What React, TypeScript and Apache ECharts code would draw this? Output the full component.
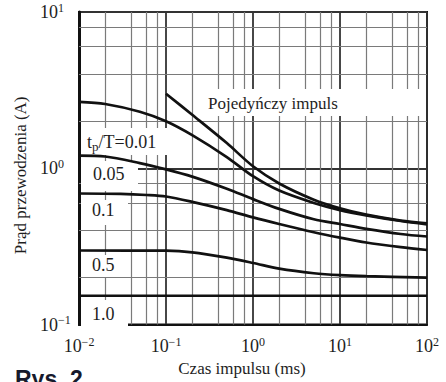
import React, { useEffect, useRef } from 'react';
import * as echarts from 'echarts';

// Axis extents (log scales)
const xRange = [0.01, 100];
const yRange = [0.1, 10];
const minorMultipliers = [2, 4, 6, 8];
const xDecades = [0.01, 0.1, 1, 10];
const yDecades = [0.1, 1];

// Curves: [pulse time (ms), conduction current (A)]
const singlePulse = [
  [0.1, 3.0], [0.2, 2.2], [0.5, 1.45], [1, 1.03], [2, 0.8],
  [5, 0.63], [10, 0.555], [20, 0.505], [50, 0.463], [100, 0.444],
];
const duty001 = [
  [0.01, 2.66], [0.02, 2.58], [0.05, 2.3], [0.1, 2.0], [0.2, 1.63],
  [0.5, 1.18], [1, 0.89], [2, 0.72], [5, 0.6], [10, 0.54],
  [20, 0.5], [50, 0.46], [100, 0.438],
];
const duty005 = [
  [0.01, 1.205], [0.02, 1.19], [0.05, 1.08], [0.1, 0.985], [0.2, 0.885],
  [0.5, 0.74], [1, 0.635], [2, 0.55], [5, 0.472], [10, 0.44],
  [20, 0.41], [50, 0.38], [100, 0.366],
];
const duty01 = [
  [0.01, 0.69], [0.03, 0.686], [0.06, 0.675], [0.1, 0.66], [0.2, 0.61],
  [0.5, 0.54], [1, 0.485], [2, 0.44], [5, 0.39], [10, 0.36],
  [20, 0.335], [50, 0.313], [100, 0.3],
];
const duty05 = [
  [0.01, 0.298], [0.1, 0.297], [0.2, 0.29], [0.5, 0.268], [1, 0.248],
  [2, 0.228], [5, 0.213], [10, 0.207], [20, 0.204], [100, 0.2],
];
const duty10 = [
  [0.01, 0.153], [100, 0.153],
];
const curves = [singlePulse, duty001, duty005, duty01, duty05, duty10];
const curveNames = ['Pojedyńczy impuls', 'tp/T=0.01', '0.05', '0.1', '0.5', '1.0'];

const xTitle = 'Czas impulsu (ms)';
const yTitle = 'Prąd przewodzenia (A)';

const SERIF = 'Liberation Serif, Times New Roman, DejaVu Serif, serif';
const TXT = '#1e1e1e';

const powLabel = (v: number) => {
  const e = Math.round(Math.log10(v));
  return `{b|10}{s|${e < 0 ? '−' + Math.abs(e) : e}}`;
};
const richPow = {
  b: { fontSize: 18, fontFamily: SERIF, color: TXT },
  s: { fontSize: 12, fontFamily: SERIF, color: TXT, padding: [0, 0, 9, 0] },
};

export default function App() {
  const ref = useRef<HTMLDivElement>(null);
  useEffect(() => {
    const chart = echarts.init(ref.current!, null, { renderer: 'svg' });
    const xMinor: number[] = [];
    xDecades.forEach((d) => minorMultipliers.forEach((k) => xMinor.push(+(k * d).toPrecision(3))));
    const yMinor: number[] = [];
    yDecades.forEach((d) => minorMultipliers.forEach((k) => yMinor.push(+(k * d).toPrecision(3))));

    const box = (x: number, y: number, w: number, h: number) => ({
      type: 'rect', shape: { x, y, width: w, height: h }, style: { fill: '#fff' }, z: 50, silent: true,
    });
    const label = (text: string, x: number, y: number, size = 18, rich?: any) => ({
      type: 'text', x, y, z: 70, silent: true,
      style: { text, fontSize: size, fontFamily: SERIF, fill: TXT, verticalAlign: 'middle', align: 'left', rich },
    });

    const option: any = {
      animation: false,
      backgroundColor: '#fff',
      textStyle: { fontFamily: SERIF },
      grid: { left: 79, top: 12, right: 19, bottom: 55, show: true, borderColor: '#111', borderWidth: 2 },
      xAxis: {
        type: 'log', logBase: 10, min: xRange[0], max: xRange[1],
        name: xTitle, nameLocation: 'middle', nameGap: 34,
        nameTextStyle: { fontSize: 17, fontFamily: SERIF, color: TXT, padding: [0, 22, 0, 0] },
        axisLine: { show: true, lineStyle: { color: '#111', width: 2 } },
        axisTick: { show: false },
        splitLine: { show: true, lineStyle: { color: '#333', width: 1.8 } },
        axisLabel: { formatter: powLabel, rich: richPow, margin: 11, fontFamily: SERIF },
      },
      yAxis: {
        type: 'log', logBase: 10, min: yRange[0], max: yRange[1],
        name: yTitle, nameLocation: 'middle', nameGap: 50,
        nameTextStyle: { fontSize: 17, fontFamily: SERIF, color: TXT, padding: [0, 14, 0, 0] },
        axisLine: { show: true, lineStyle: { color: '#111', width: 3 } },
        axisTick: { show: false },
        splitLine: { show: true, lineStyle: { color: '#333', width: 1.8 } },
        axisLabel: { formatter: powLabel, rich: richPow, margin: 39, align: 'left', fontFamily: SERIF },
      },
      series: [
        {
          type: 'line', data: [], silent: true, z: 1,
          markLine: {
            silent: true, symbol: ['none', 'none'], animation: false,
            label: { show: false },
            emphasis: { disabled: true },
            lineStyle: { color: '#7a7a7a', width: 1.2, type: 'solid' },
            data: [...xMinor.map((v) => ({ xAxis: v })), ...yMinor.map((v) => ({ yAxis: v }))],
          },
        },
        ...curves.map((c, i) => ({
          name: curveNames[i], type: 'line', data: c, showSymbol: false, symbol: 'none',
          smooth: 0.3, z: 60, silent: true,
          lineStyle: { color: '#111', width: 2.7 },
        })),
      ],
      graphic: {
        elements: [
          box(200, 89, 225, 27),
          box(81, 128, 96, 27),
          box(81, 161, 57, 30),
          box(81, 200, 47, 25),
          box(81, 255, 47, 22),
          box(81, 300, 47, 29),
          label('Pojedyńczy impuls', 208, 103, 17),
          label('{n|t}{p|p}{n|/T=0.01}', 87, 142, 18, {
            n: { fontSize: 18, fontFamily: SERIF, color: TXT },
            p: { fontSize: 13, fontFamily: SERIF, color: TXT, padding: [8, 0, 0, 0] },
          }),
          label('0.05', 93, 174),
          label('0.1', 92, 210),
          label('0.5', 92, 265),
          label('1.0', 92, 314),
          {
            type: 'text', x: 15, y: 367, z: 80, silent: true,
            style: { text: 'Rys. 2', fontSize: 23, fontWeight: 'bold', fontFamily: 'Liberation Sans, Arial, sans-serif', fill: '#171a2c', verticalAlign: 'top' },
          },
        ],
      },
    };
    chart.setOption(option);
    return () => chart.dispose();
  }, []);
  return <div ref={ref} style={{ position: 'absolute', left: 0, top: 0, width: 446, height: 382 }} />;
}
